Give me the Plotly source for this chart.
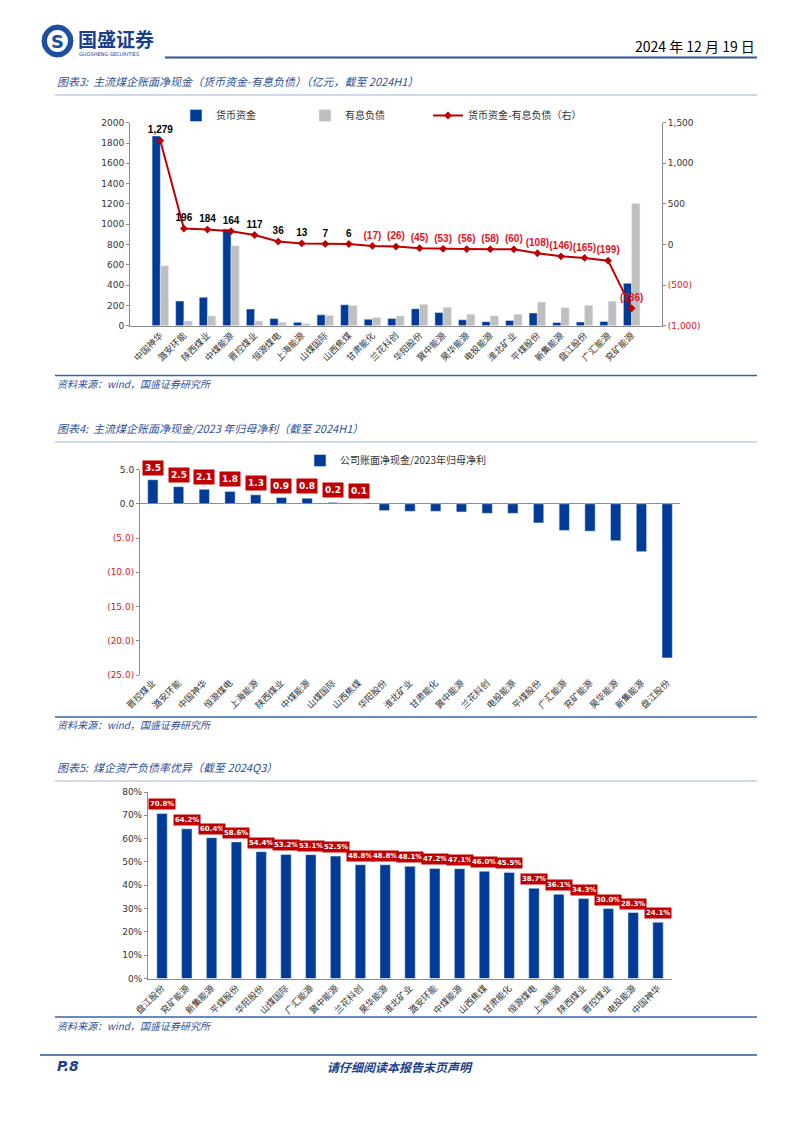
import plotly.graph_objects as go

# ---------------- data ----------------
cats1 = ["中国神华", "潞安环能", "陕西煤业", "中煤能源", "晋控煤业", "恒源煤电", "上海能源",
         "山煤国际", "山西焦煤", "甘肃能化", "兰花科创", "华阳股份", "冀中能源", "昊华能源",
         "电投能源", "淮北矿业", "平煤股份", "新集能源", "盘江股份", "广汇能源", "兖矿能源"]
cash1 = [1870, 243, 280, 952, 164, 70, 33, 107, 206, 63, 70, 167, 130, 58, 40, 52, 125, 32, 36, 42, 418]
debt1 = [591, 47, 96, 788, 47, 34, 20, 100, 200, 80, 96, 212, 183, 114, 98, 112, 233, 178, 201, 241, 1204]
net1 = [1279, 196, 184, 164, 117, 36, 13, 7, 6, -17, -26, -45, -53, -56, -58, -60, -108, -146, -165, -199, -786]

cats2 = ["晋控煤业", "潞安环能", "中国神华", "恒源煤电", "上海能源", "陕西煤业", "中煤能源",
         "山煤国际", "山西焦煤", "华阳股份", "淮北矿业", "甘肃能化", "冀中能源", "兰花科创",
         "电投能源", "平煤股份", "广汇能源", "兖矿能源", "昊华能源", "新集能源", "盘江股份"]
ratio2 = [3.5, 2.5, 2.1, 1.8, 1.3, 0.9, 0.8, 0.2, 0.1, -1.0, -1.1, -1.1, -1.2, -1.4,
          -1.4, -2.8, -3.9, -4.0, -5.4, -7.0, -22.5]

cats3 = ["盘江股份", "兖矿能源", "新集能源", "平煤股份", "华阳股份", "山煤国际", "广汇能源",
         "冀中能源", "兰花科创", "昊华能源", "淮北矿业", "潞安环能", "中煤能源", "山西焦煤",
         "甘肃能化", "恒源煤电", "上海能源", "陕西煤业", "晋控煤业", "电投能源", "中国神华"]
lev3 = [70.8, 64.2, 60.4, 58.6, 54.4, 53.2, 53.1, 52.5, 48.8, 48.8, 48.1, 47.2, 47.1, 46.0,
        45.5, 38.7, 36.1, 34.3, 30.0, 28.3, 24.1]

y1_left_ticks = [0, 200, 400, 600, 800, 1000, 1200, 1400, 1600, 1800, 2000]
y1_right_ticks = [1500, 1000, 500, 0, -500, -1000]
y2_ticks = [5, 0, -5, -10, -15, -20, -25]
y3_ticks = [0, 10, 20, 30, 40, 50, 60, 70, 80]

# ---------------- style ----------------
W, H = 802, 1133
BLUE = "#003C97"
GRAY = "#BFBFBF"
RED = "#C00000"
NEGRED = "#E8101C"
TXT = "#333333"
AX = "#8C8C8C"
TITLEBLUE = "#2F4F9A"
NUM = "DejaVu Sans, Noto Sans CJK SC"
LAB = "Liberation Sans, Arial, sans-serif"
CJK = "Noto Sans CJK SC, DejaVu Sans"


def px(x):
    return x / W


def py(y):
    return 1 - y / H


def fmt_paren(v):
    s = f"{abs(v):,}"
    return f"({s})" if v < 0 else s


def red_if_neg(v, s):
    return f"<span style='color:{NEGRED}'>{s}</span>" if v < 0 else s


fig = go.Figure()

# ---------------- chart 1 ----------------
fig.add_trace(go.Bar(x=cats1, y=cash1, name="货币资金", marker_color=BLUE,
                     width=0.35, offset=-0.35, xaxis="x", yaxis="y", legend="legend"))
fig.add_trace(go.Bar(x=cats1, y=debt1, name="有息负债", marker_color=GRAY,
                     width=0.35, offset=0.0, xaxis="x", yaxis="y", legend="legend"))
fig.add_trace(go.Scatter(
    x=cats1, y=net1, name="货币资金-有息负债（右）", mode="lines+markers+text",
    line=dict(color=RED, width=2), marker=dict(symbol="diamond", size=6, color=RED),
    text=[fmt_paren(v) for v in net1], texttemplate="<b>%{text}</b>",
    textposition="top center",
    textfont=dict(size=10, family=LAB, color=["#000000" if v >= 0 else NEGRED for v in net1]),
    xaxis="x", yaxis="y2", legend="legend3"))

# ---------------- chart 2 ----------------
fig.add_trace(go.Bar(x=cats2, y=ratio2, name="公司账面净现金/2023年归母净利", marker_color=BLUE,
                     width=0.4, xaxis="x2", yaxis="y3", legend="legend2"))
for c, v in zip(cats2, ratio2):
    if v > 0:
        fig.add_annotation(x=c, y=v, xref="x2", yref="y3", text=f"<b>{v:.1f}</b>",
                           showarrow=False, yanchor="bottom", yshift=4, bgcolor=RED,
                           borderpad=2, font=dict(size=9, color="white", family=NUM))

# ---------------- chart 3 ----------------
fig.add_trace(go.Bar(x=cats3, y=lev3, name="资产负债率", marker_color=BLUE, width=0.42,
                     xaxis="x3", yaxis="y4", showlegend=False))
for c, v in zip(cats3, lev3):
    fig.add_annotation(x=c, y=v, xref="x3", yref="y4", text=f"<b>{v:.1f}%</b>",
                       showarrow=False, yanchor="bottom", yshift=3, bgcolor=RED,
                       borderpad=1, font=dict(size=7, color="white", family=NUM))

ytick = dict(showline=True, ticks="outside", ticklen=3, tickcolor=AX, linecolor=AX, linewidth=1,
             showgrid=False, automargin=False, tickfont=dict(size=9, color=TXT, family=NUM))
xtick = dict(type="category", tickangle=-45, ticks="", showgrid=False, zeroline=False,
             automargin=False, linecolor=AX, linewidth=1,
             tickfont=dict(size=9, color=TXT, family=CJK))
leg = dict(orientation="h", xanchor="left", yanchor="top", bgcolor="rgba(0,0,0,0)",
           itemwidth=30, font=dict(size=10, color=TXT, family=CJK))

fig.update_layout(
    width=W, height=H, margin=dict(l=0, r=0, t=0, b=0, autoexpand=False),
    paper_bgcolor="white", plot_bgcolor="white", barmode="overlay",
    font=dict(family=CJK, color=TXT),
    xaxis=dict(domain=[px(130), px(662)], anchor="y", showline=True, **xtick),
    yaxis=dict(domain=[py(325.7), py(122.7)], anchor="x", range=[0, 2000], zeroline=False,
               tickvals=y1_left_ticks, ticktext=[str(v) for v in y1_left_ticks], **ytick),
    yaxis2=dict(overlaying="y", side="right", anchor="x", range=[-1000, 1500], zeroline=False,
                tickvals=y1_right_ticks,
                ticktext=[red_if_neg(v, fmt_paren(v)) for v in y1_right_ticks], **ytick),
    xaxis2=dict(domain=[px(140), px(680)], anchor="y3", showline=False, **xtick),
    yaxis3=dict(domain=[py(675), py(469.5)], anchor="x2", range=[-25, 5],
                tickvals=y2_ticks,
                ticktext=[red_if_neg(v, f"({abs(v):.1f})" if v < 0 else f"{v:.1f}") for v in y2_ticks],
                zeroline=True, zerolinecolor=AX, zerolinewidth=1, **ytick),
    xaxis3=dict(domain=[px(148), px(672)], anchor="y4", showline=True, **xtick),
    yaxis4=dict(domain=[py(978.5), py(792)], anchor="x3", range=[0, 80], zeroline=False,
                tickvals=y3_ticks, ticktext=[f"{v}%" for v in y3_ticks], **ytick),
    legend=dict(x=px(176), y=py(101), entrywidth=84, traceorder="normal", **leg),
    legend3=dict(x=px(428), y=py(101), **leg),
    legend2=dict(orientation="h", x=px(396), y=py(446), xanchor="center", yanchor="top",
                 font=dict(size=10, color=TXT, family=CJK), bgcolor="rgba(0,0,0,0)",
                 itemwidth=30),
    showlegend=True,
)

# ---------------- page decorations ----------------
shapes = []


def hline(y, x0, x1, color, w):
    shapes.append(dict(type="line", xref="paper", yref="paper", x0=px(x0), x1=px(x1),
                       y0=py(y), y1=py(y), line=dict(color=color, width=w)))


hline(57.5, 165, 757, "#2E5596", 2)
shapes.append(dict(type="circle", xref="paper", yref="paper", x0=px(42), x1=px(73),
                   y0=py(57), y1=py(25), fillcolor="#1C4FA0", line=dict(color="#1C4FA0", width=1)))
shapes.append(dict(type="circle", xref="paper", yref="paper", x0=px(47), x1=px(68),
                   y0=py(52), y1=py(30), fillcolor="white", line=dict(color="white", width=0)))

for ty in (95, 442, 781):
    hline(ty, 55, 757, "#9FB2CF", 1)
for sy in (375.5, 717, 1017):
    hline(sy, 55, 757, "#3763AE", 1.5)
hline(1055, 40, 757, "#2E5596", 1.5)
fig.update_layout(shapes=shapes)


def text(x, y, s, size, color, xanchor="left", bold=False, italic=False, family=CJK):
    fig.add_annotation(x=px(x), y=py(y), xref="paper", yref="paper", text=f"<b>{s}</b>" if bold else s,
                       showarrow=False, xanchor=xanchor, yanchor="middle",
                       font=dict(size=size, color=color, family=family,
                                 style="italic" if italic else "normal"))


text(57.5, 41, "<b>S</b>", 18, "#1C4FA0", xanchor="center", family=NUM)
text(76, 38, "国盛证券", 19, "#1B3F8F", bold=True)
text(77, 54, "GUOSHENG SECURITIES", 5, "#1B3F8F", family=NUM)
text(757, 46, "2024 年 12 月 19 日", 14, "#000000", xanchor="right")

text(55, 81, "图表3:  主流煤企账面净现金（货币资金-有息负债）（亿元，截至 2024H1）", 11, TITLEBLUE, italic=True)
text(55, 428, "图表4:  主流煤企账面净现金/2023 年归母净利（截至 2024H1）", 11, TITLEBLUE, italic=True)
text(55, 767, "图表5:  煤企资产负债率优异（截至 2024Q3）", 11, TITLEBLUE, italic=True)
for sy in (383, 725, 1025):
    text(55, sy, "资料来源：wind，国盛证券研究所", 10, TITLEBLUE, italic=True)

text(55, 1066, "P.8", 14, "#1B3F8F", bold=True, italic=True, family=NUM)
text(400, 1066, "请仔细阅读本报告末页声明", 12, "#1B3F8F", xanchor="center", bold=True, italic=True)

fig.write_html("out.html", post_script="document.body.style.margin='0px';",
               config={"displayModeBar": False})
